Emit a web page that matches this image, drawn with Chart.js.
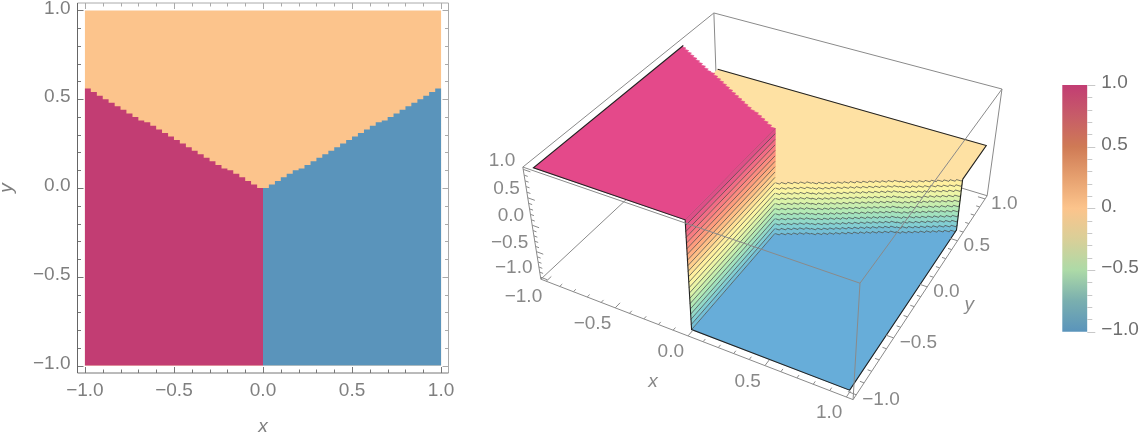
<!DOCTYPE html>
<html>
<head>
<meta charset="utf-8">
<script src="https://cdn.jsdelivr.net/npm/chart.js@4"></script>
<style>
  html, body { margin: 0; padding: 0; background: #fff; }
  body { width: 1140px; height: 434px; overflow: hidden; position: relative; }
  canvas { position: absolute; top: 0; filter: blur(0.35px); }
  #density { left: 0; }
  #surface { left: 470px; }
  #legend { left: 1040px; }
</style>
</head>
<body>
<canvas id="density" width="460" height="434"></canvas>
<canvas id="surface" width="570" height="434"></canvas>
<canvas id="legend" width="100" height="434"></canvas>
<script>
// tick values shared by the panels
const majorTicks = [-1, -0.5, 0, 0.5, 1];
const minorTicks = [-0.9, -0.8, -0.7, -0.6, -0.4, -0.3, -0.2, -0.1, 0.1, 0.2, 0.3, 0.4, 0.6, 0.7, 0.8, 0.9];
const barTickLabels = { '1': '1.0', '0.5': '0.5', '0': '0.', '-0.5': '\u22120.5', '-1': '\u22121.0' };

// staircase edge between the regions (x > 0 arm, mirrored for x < 0)
const edgeX = [0, 0.033, 0.067, 0.1, 0.133, 0.167, 0.2, 0.233, 0.267, 0.3, 0.333, 0.367, 0.4, 0.433, 0.467, 0.5,
  0.533, 0.567, 0.6, 0.633, 0.667, 0.7, 0.733, 0.767, 0.8, 0.833, 0.867, 0.9, 0.933, 0.967, 1];
const edgeY = [0, 0.02, 0.04, 0.06, 0.08, 0.1, 0.11, 0.13, 0.15, 0.17, 0.19, 0.21, 0.23, 0.25, 0.27, 0.29,
  0.31, 0.33, 0.35, 0.37, 0.38, 0.4, 0.42, 0.44, 0.46, 0.48, 0.5, 0.52, 0.54, 0.56, 0.58];
const edgeEnd = edgeY[edgeY.length - 1];

// surface heights of the three regions
const zPink = 1;
const zYellow = 0;
const zBlue = -1;
const wallLevels = [1, 0.9, 0.8, 0.7, 0.6, 0.5, 0.4, 0.3, 0.2, 0.1, 0, -0.1, -0.2, -0.3, -0.4, -0.5, -0.6, -0.7, -0.8, -0.9, -1];
const wallColors = ['#de4f88', '#e95c88', '#f26c85', '#f87c82', '#fc8c80', '#fe9c7e', '#ffad80', '#ffbe86', '#ffcf8e', '#ffe096',
  '#fff09f', '#fbf5a3', '#edf5a6', '#dcf3a9', '#c8eeae', '#b4eab5', '#a2e2be', '#92d9c8', '#82ced2', '#74bfd6'];

// legend gradient
const barStops = [1, 0.75, 0.5, 0.25, 0, -0.25, -0.5, -0.75, -1];
const barColors = ['#c23d73', '#c75c68', '#cf7a55', '#e6a06f', '#fcc48c', '#d9cf98', '#adDAa7', '#7aafaf', '#5a94bb'];

const GREY = '#7f7f7f';
const GREY3D = '#888888';
const FONT = 'Liberation Sans, Arial, sans-serif';
const FONT_SIZE = 19;
const minus = v => (v < 0 ? '\u2212' : '') + Math.abs(v).toFixed(1);

// doubles the edge points so a polygon follows the stairs instead of cutting across them
function stairs(xs, ys) {
  const out = [];
  xs.forEach((x, i) => {
    out.push([x, ys[i]]);
    if (i < xs.length - 1) out.push([xs[i + 1], ys[i]]);
  });
  return out;
}

// fills a scatter dataset as a polygon, using the pixels the scales gave its points
const polygonFill = {
  id: 'polygonFill',
  beforeDatasetDraw(chart, args) {
    const ds = chart.data.datasets[args.index];
    if (!ds.shapeColor) return;
    const pts = args.meta.data;
    const ctx = chart.ctx;
    ctx.save();
    ctx.beginPath();
    pts.forEach((p, i) => (i ? ctx.lineTo(p.x, p.y) : ctx.moveTo(p.x, p.y)));
    ctx.closePath();
    ctx.fillStyle = ds.shapeColor;
    ctx.fill();
    ctx.restore();
  }
};

function layered(datasets) {
  // first dataset at the bottom of the stack
  datasets.forEach((d, i) => { d.order = -i; });
  return datasets;
}

// ---------- left panel ----------
const edgeRight = stairs(edgeX, edgeY);
const edgeLeft = edgeRight.map(p => [-p[0], p[1]]);
const toXY = p => ({ x: p[0], y: p[1] });
const flat = (color, pts) => ({
  data: pts.map(toXY), shapeColor: color, showLine: false, pointRadius: 0
});

const frameAndTicks = {
  id: 'frameAndTicks',
  afterDatasetsDraw(chart) {
    const { ctx, chartArea: a, scales } = chart;
    ctx.save();
    ctx.lineWidth = 1;
    const line = (x1, y1, x2, y2, c) => {
      ctx.strokeStyle = c;
      ctx.beginPath();
      ctx.moveTo(x1, y1);
      ctx.lineTo(x2, y2);
      ctx.stroke();
    };
    const mark = (v, len) => {
      const px = Math.round(scales.x.getPixelForValue(v)) + 0.5;
      const py = Math.round(scales.y.getPixelForValue(v)) + 0.5;
      line(px, a.top, px, a.top + len, '#aaa');
      line(px, a.bottom, px, a.bottom - len, '#777');
      line(a.left, py, a.left + len, py, '#777');
      line(a.right, py, a.right - len, py, '#aaa');
    };
    majorTicks.forEach(v => mark(v, 6));
    minorTicks.forEach(v => mark(v, 3.5));
    line(a.left, a.top, a.right, a.top, '#aaa');
    line(a.right, a.top, a.right, a.bottom, '#aaa');
    line(a.left, a.bottom, a.right, a.bottom, '#777');
    line(a.left, a.top, a.left, a.bottom, '#666');
    ctx.restore();
  }
};

const axis2d = (titleText, extra) => Object.assign({
  type: 'linear',
  min: -1.0417,
  max: 1.0417,
  grid: { display: false, drawTicks: false },
  border: { display: false },
  afterBuildTicks(s) { s.ticks = majorTicks.map(v => ({ value: v })); },
  title: {
    display: true,
    text: titleText,
    color: GREY,
    padding: { top: -4.4, bottom: -4.4 },
    font: { family: FONT, size: FONT_SIZE, style: 'italic' }
  }
}, extra);

new Chart(document.getElementById('density'), {
  type: 'scatter',
  data: {
    datasets: layered([
      flat('#fcc48c', [[-1, -1], [1, -1], [1, 1], [-1, 1]]),
      flat('#c23d73', [[-1, -1], [0, -1]].concat(edgeLeft)),
      flat('#5a94bb', [[1, -1], [0, -1]].concat(edgeRight))
    ])
  },
  plugins: [polygonFill, frameAndTicks],
  options: {
    responsive: false,
    animation: false,
    layout: { padding: { top: 3, right: 11.5, left: 0, bottom: 0 } },
    plugins: { legend: { display: false }, tooltip: { enabled: false } },
    scales: {
      x: axis2d('x', {
        afterFit(s) { s.height = 61; s.paddingLeft = 0; s.paddingRight = 0; },
        ticks: { color: GREY, padding: 6, maxRotation: 0, font: { family: FONT, size: FONT_SIZE }, callback: minus }
      }),
      y: axis2d('y', {
        afterFit(s) { s.width = 77.5; s.paddingTop = 0; s.paddingBottom = 0; },
        ticks: { color: GREY, padding: 7, labelOffset: -2, font: { family: FONT, size: FONT_SIZE }, callback: minus }
      })
    }
  }
});

// ---------- 3D panel ----------
// perspective camera fitted to the eight box corners; its output goes to the chart's x/y scales
const boxRange = 1.04;
const camU = [112.04, 167.6, -28.33, 803.33];
const camV = [39.31, -71.6, -63.32, 189.32];
const camW = [-0.05544, 0.108, -0.0366, 1.0366];
function project(p) {
  const q = [p[0] / boxRange, p[1] / boxRange, p[2] / boxRange, 1];
  const dot = c => c[0] * q[0] + c[1] * q[1] + c[2] * q[2] + c[3];
  const w = dot(camW);
  return { x: dot(camU) / w, y: dot(camV) / w };
}

const R = boxRange;
const at = (pts, z) => pts.map(p => [p[0], p[1], z]);
const edgeRightRev = edgeRight.slice().reverse();

const solid = (color, pts) => ({
  data: pts.map(project), shapeColor: color, showLine: true, borderColor: color, borderWidth: 0.6, pointRadius: 0, tension: 0, clip: false
});
const stroke = (color, width, pts) => ({
  data: pts.map(project), showLine: true, borderColor: color, borderWidth: width, pointRadius: 0, tension: 0, clip: false
});

const BOX = '#8a8a8a';
const CONTOUR = 'rgba(70,70,70,0.72)';
const sets = [];

// box edges behind the surface
[
  [[-R, R, R], [R, R, R]],
  [[-R, R, R], [-R, R, -R]],
  [[R, R, R], [R, R, -R]],
  [[-R, R, -R], [R, R, -R]],
  [[-R, -R, -R], [-R, R, -R]]
].forEach(e => sets.push(stroke(BOX, 1, e)));

// yellow plateau
sets.push(solid('#fee1a3', at([[-1, 1], [1, 1]].concat(edgeRightRev, edgeLeft), zYellow)));
sets.push(stroke('#222', 1.1, at([[-1, 1], [1, 1], [1, edgeEnd]], zYellow)));

// blue floor
sets.push(solid('#67add9', at([[0, -1], [1, -1]].concat(edgeRightRev), zBlue)));

// wall between the plateau and the floor, then its contours
wallLevels.forEach((z, i) => {
  if (z > zYellow || i === wallLevels.length - 1) return;
  sets.push(solid(wallColors[i], at(edgeRight, z).concat(at(edgeRightRev, wallLevels[i + 1]))));
});
wallLevels.forEach(z => {
  if (z > zYellow) return;
  sets.push(stroke(CONTOUR, 1, at(edgeRight, z)));
});
sets.push(stroke('#222', 1.1, [[1, edgeEnd, zYellow], [1, edgeEnd, zBlue]]));

// wall at x = 0 between pink and blue
wallLevels.slice(0, -1).forEach((z, i) => {
  const lo = wallLevels[i + 1];
  sets.push(solid(wallColors[i], [[0, -1, z], [0, 0, z], [0, 0, lo], [0, -1, lo]]));
});
wallLevels.forEach(z => {
  sets.push(stroke(CONTOUR, 1, [[0, -1, z], [0, 0, z]]));
});

// pink plateau
sets.push(solid('#e4498a', at([[-1, -1], [0, -1]].concat(edgeLeft), zPink)));

// black outline of the surface
sets.push(stroke('#222', 1.1, [[-1, edgeEnd, zPink], [-1, -1, zPink], [0, -1, zPink], [0, -1, zBlue], [1, -1, zBlue], [1, edgeEnd, zBlue]]));

// box edges in front of the surface
[
  [[-R, -R, R], [R, -R, R]],
  [[R, -R, R], [R, R, R]],
  [[-R, -R, R], [-R, R, R]],
  [[-R, -R, R], [-R, -R, -R]],
  [[R, -R, R], [R, -R, -R]],
  [[-R, -R, -R], [R, -R, -R]],
  [[R, -R, -R], [R, R, -R]]
].forEach(e => sets.push(stroke(BOX, 1, e)));

// axis ticks
const tickSets = (v, len) => [
  stroke(BOX, 1, [[v, -R, -R], [v, -R + len, -R]]),
  stroke(BOX, 1, [[R, v, -R], [R - len, v, -R]]),
  stroke(BOX, 1, [[-R, -R, v], [-R + len, -R, v]])
];
majorTicks.forEach(v => sets.push(...tickSets(v, 0.05)));
minorTicks.forEach(v => sets.push(...tickSets(v, 0.025)));

const surfaceLabels = {
  id: 'surfaceLabels',
  afterDatasetsDraw(chart) {
    const { ctx, scales } = chart;
    const put = (text, p, dx, dy, align, style) => {
      const q = project(p);
      ctx.textAlign = align;
      ctx.font = (style || '') + ' ' + FONT_SIZE + 'px ' + FONT;
      ctx.fillText(text, scales.x.getPixelForValue(q.x) + dx, scales.y.getPixelForValue(q.y) + dy);
    };
    ctx.save();
    ctx.fillStyle = GREY3D;
    ctx.textBaseline = 'middle';
    majorTicks.forEach(v => {
      put(minus(v), [v, -R, -R], -4, 16, 'right');
      put(minus(v), [R, v, -R], 6, 5, 'left');
      put(minus(v), [-R, -R, v], -8, -9, 'right');
    });
    put('x', [0, -R, -R], -35, 46, 'center', 'italic');
    put('y', [R, 0, -R], 42, 18, 'center', 'italic');
    ctx.restore();
  }
};

new Chart(document.getElementById('surface'), {
  type: 'scatter',
  data: { datasets: layered(sets) },
  plugins: [polygonFill, surfaceLabels],
  options: {
    responsive: false,
    animation: false,
    layout: { padding: 0 },
    plugins: { legend: { display: false }, tooltip: { enabled: false } },
    scales: {
      x: { type: 'linear', display: false, min: 470, max: 1040 },
      y: { type: 'linear', display: false, min: 0, max: 434, reverse: true }
    }
  }
});

// ---------- colour bar ----------
const barTicks = {
  id: 'barTicks',
  afterDatasetsDraw(chart) {
    const { ctx, chartArea: a, scales } = chart;
    ctx.save();
    ctx.strokeStyle = '#c8c8c8';
    ctx.lineWidth = 1;
    const mark = (v, len) => {
      const py = Math.round(scales.y.getPixelForValue(v)) + 0.5;
      ctx.beginPath();
      ctx.moveTo(a.right, py);
      ctx.lineTo(a.right + len, py);
      ctx.stroke();
    };
    majorTicks.forEach(v => mark(v, 8));
    minorTicks.forEach(v => mark(v, 5));
    ctx.restore();
  }
};

new Chart(document.getElementById('legend'), {
  type: 'bar',
  data: {
    labels: [''],
    datasets: [{
      data: [[-1, 1]],
      barPercentage: 1,
      categoryPercentage: 1,
      borderWidth: 0,
      backgroundColor(c) {
        const { chart } = c;
        if (!chart.chartArea) return barColors[0];
        const y = chart.scales.y;
        const g = chart.ctx.createLinearGradient(0, y.getPixelForValue(1), 0, y.getPixelForValue(-1));
        barStops.forEach((s, i) => g.addColorStop((1 - s) / 2, barColors[i]));
        return g;
      }
    }]
  },
  plugins: [barTicks],
  options: {
    responsive: false,
    animation: false,
    layout: { padding: { left: 22.3, top: 85, bottom: 102.3, right: 0 } },
    plugins: { legend: { display: false }, tooltip: { enabled: false } },
    scales: {
      x: { display: false },
      y: {
        position: 'right',
        min: -1,
        max: 1,
        afterFit(s) { s.width = 52.7; s.paddingTop = 0; s.paddingBottom = 0; },
        grid: { display: false, drawTicks: false },
        border: { display: false },
        afterBuildTicks(s) { s.ticks = majorTicks.map(v => ({ value: v })); },
        ticks: { color: '#6e6e6e', padding: 14, labelOffset: -2, font: { family: FONT, size: FONT_SIZE }, callback: v => barTickLabels[String(v)] }
      }
    }
  }
});
</script>
</body>
</html>
